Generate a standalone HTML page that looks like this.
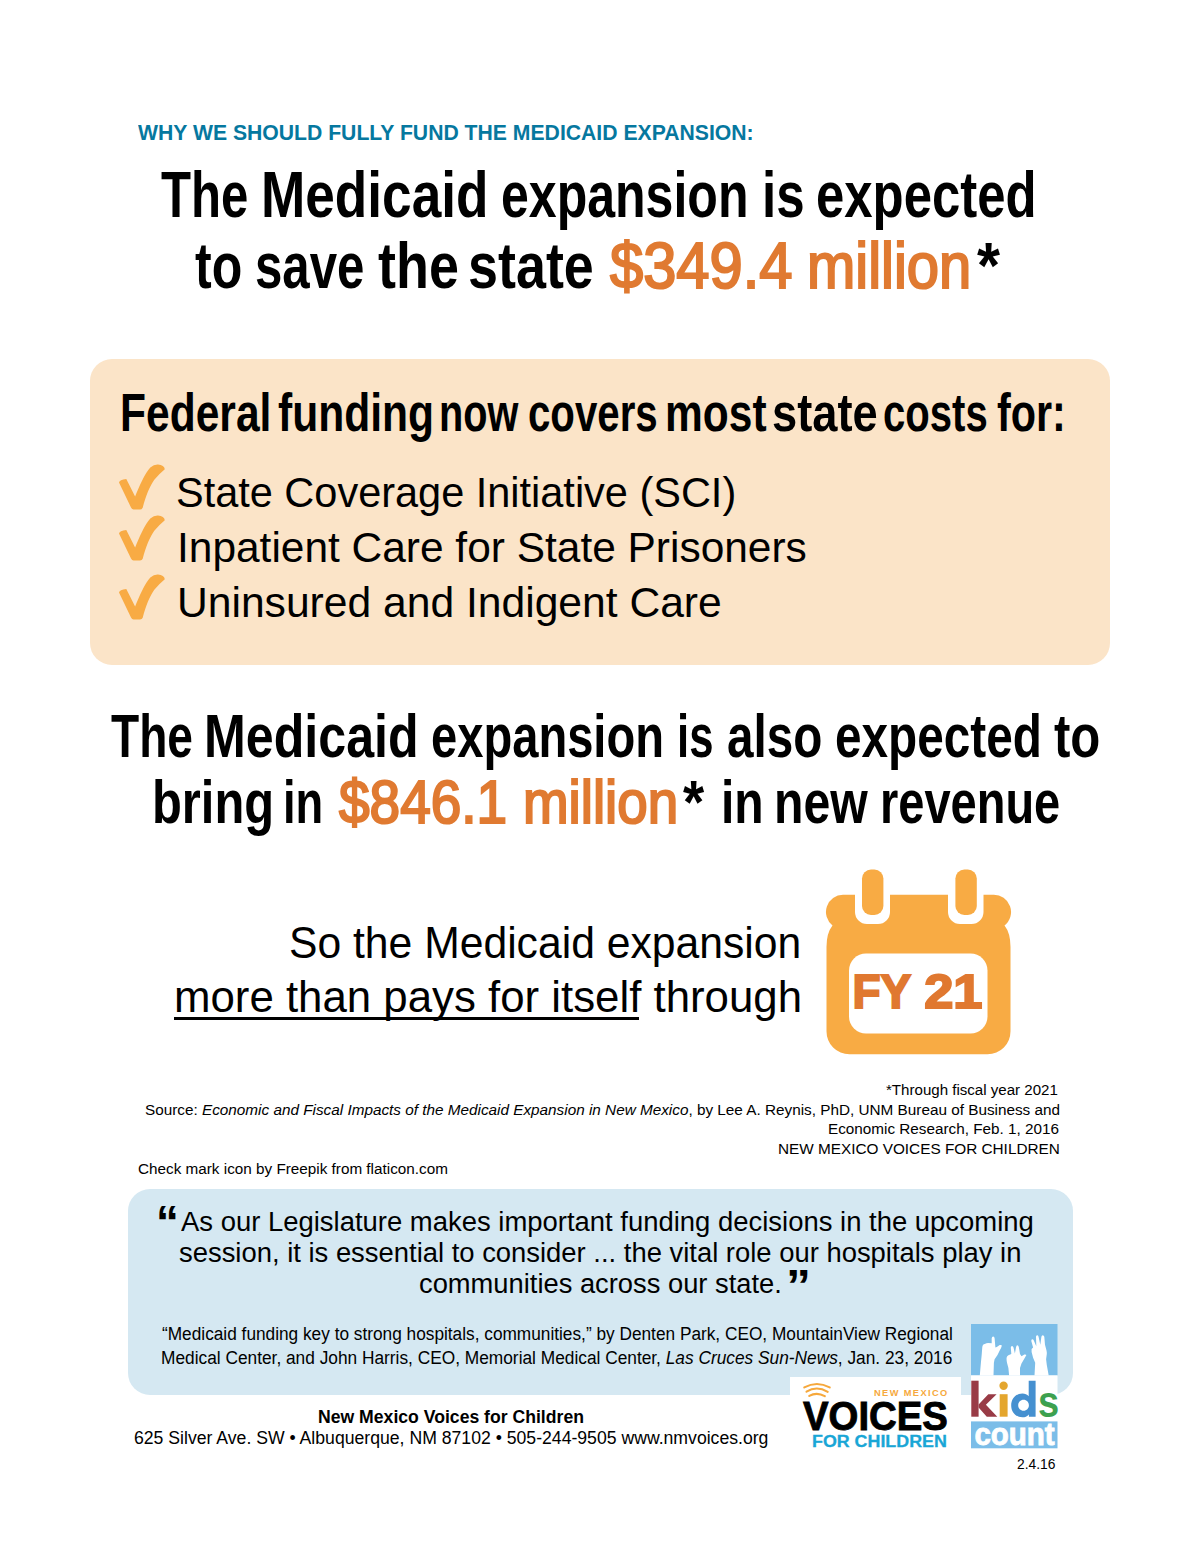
<!DOCTYPE html>
<html><head><meta charset="utf-8">
<style>
html,body{margin:0;padding:0;background:#fff;}
body{width:1200px;height:1553px;position:relative;overflow:hidden;font-family:"Liberation Sans",sans-serif;color:#000;}
.l{position:absolute;white-space:nowrap;line-height:1;transform-origin:0 0;}
.b{font-weight:bold;}
.or{color:#E07A31;}
.ft{color:#000;}
.ct{color:#000;}
.ul{text-decoration:underline;text-decoration-thickness:3px;text-underline-offset:4px;}
#peach{position:absolute;left:90px;top:359px;width:1020px;height:306px;border-radius:22px;background:#FBE4C8;}
#blue{position:absolute;left:128.25px;top:1189.3px;width:944.25px;height:205.7px;border-radius:22px;background:#D5E8F2;}
svg{position:absolute;overflow:visible;}
</style></head>
<body>
<div id="peach"></div>
<div id="blue"></div>

<!-- checkmarks -->
<svg id="ck1" style="left:119px;top:464.5px" width="47" height="46" viewBox="0 0 47 46"><path fill="#F8AB44" d="M0,17.5 Q0.5,14.5 7.3,14 L16.1,31.6 C20,22 26,8 31.3,2.5 Q35,-0.6 39,-0.4 Q45.2,0.3 45.8,4.2 Q40,9 35.3,14.7 C31,21 27,30 23.7,42.7 Q23,44.5 21,44.5 L14.5,44.5 Q13,44.3 12,42.5 Z"/></svg>
<svg id="ck2" style="left:119px;top:515.8px" width="47" height="46" viewBox="0 0 47 46"><path fill="#F8AB44" d="M0,17.5 Q0.5,14.5 7.3,14 L16.1,31.6 C20,22 26,8 31.3,2.5 Q35,-0.6 39,-0.4 Q45.2,0.3 45.8,4.2 Q40,9 35.3,14.7 C31,21 27,30 23.7,42.7 Q23,44.5 21,44.5 L14.5,44.5 Q13,44.3 12,42.5 Z"/></svg>
<svg id="ck3" style="left:119px;top:574.8px" width="47" height="46" viewBox="0 0 47 46"><path fill="#F8AB44" d="M0,17.5 Q0.5,14.5 7.3,14 L16.1,31.6 C20,22 26,8 31.3,2.5 Q35,-0.6 39,-0.4 Q45.2,0.3 45.8,4.2 Q40,9 35.3,14.7 C31,21 27,30 23.7,42.7 Q23,44.5 21,44.5 L14.5,44.5 Q13,44.3 12,42.5 Z"/></svg>

<!-- calendar -->
<svg id="cal" style="left:0;top:0" width="1200" height="1553" viewBox="0 0 1200 1553">
  <path fill="#F8AB44" d="M843,894.8 H855 V912 A12,12 0 0 0 867,924 H878 A12,12 0 0 0 890,912 V894.8 H948 V912 A12,12 0 0 0 960,924 H971.5 A12,12 0 0 0 983.5,912 V894.8 H993.5 A17.2,17.2 0 0 1 1004.5,925.5 Q1010.5,933 1010.5,947 V1031 A23,23 0 0 1 987.5,1054.3 H849.5 A23,23 0 0 1 826.5,1031 V947 Q826.5,933 832.5,925.5 A17.2,17.2 0 0 1 843,894.8 Z"/>
  <rect x="862" y="869.5" width="21.4" height="45.5" rx="9" fill="#F8AB44"/>
  <rect x="955.4" y="869.5" width="21.4" height="45.5" rx="9" fill="#F8AB44"/>
  <rect x="849" y="953.5" width="138.5" height="80" rx="17" fill="#fff"/>
  <g font-family="Liberation Sans" font-weight="bold" font-size="47.2" fill="#E07830" stroke="#E07830" stroke-width="2">
  <text transform="translate(852.4,1007.8) scale(0.975,1)">FY</text>
  <text transform="translate(924.2,1007.8) scale(1.11,1)">21</text>
  </g>
</svg>


<div id="vbg" style="position:absolute;left:790.2px;top:1377.3px;width:170.5px;height:76px;background:#fff;"></div>
<div id="kick" class="l b" style="left:138.03px;top:122.00px;font-size:22.5px;transform:scaleX(0.9410);color:#06789F;">WHY WE SHOULD FULLY FUND THE MEDICAID EXPANSION:</div>
<div id="h1a_0" class="l b" style="left:161.48px;top:162.22px;font-size:65.7px;transform:scaleX(0.7482);">The</div>
<div id="h1a_1" class="l b" style="left:260.76px;top:162.22px;font-size:65.7px;transform:scaleX(0.8095);">Medicaid</div>
<div id="h1a_2" class="l b" style="left:501.48px;top:162.22px;font-size:65.7px;transform:scaleX(0.7618);">expansion</div>
<div id="h1a_3" class="l b" style="left:761.89px;top:162.22px;font-size:65.7px;transform:scaleX(0.7771);">is</div>
<div id="h1a_4" class="l b" style="left:816.10px;top:162.22px;font-size:65.7px;transform:scaleX(0.7749);">expected</div>
<div id="h1b_0" class="l b" style="left:194.65px;top:232.80px;font-size:65.7px;transform:scaleX(0.7617);">to</div>
<div id="h1b_1" class="l b" style="left:255.15px;top:232.80px;font-size:65.7px;transform:scaleX(0.7493);">save</div>
<div id="h1b_2" class="l b" style="left:378.45px;top:232.80px;font-size:65.7px;transform:scaleX(0.8208);">the</div>
<div id="h1b_3" class="l b" style="left:468.09px;top:232.80px;font-size:65.7px;transform:scaleX(0.8203);">state</div>
<div id="h1b_4" class="l" style="left:609.63px;top:232.81px;font-size:65.7px;transform:scaleX(0.9080);-webkit-text-stroke:2.2px #E07A31;"><span class="or">$349.4</span></div>
<div id="h1b_5" class="l" style="left:806.89px;top:232.81px;font-size:65.7px;transform:scaleX(0.8828);-webkit-text-stroke:2.2px #E07A31;"><span class="or">million</span></div>
<div id="h1b_6" class="l b" style="left:977.43px;top:232.80px;font-size:65.7px;transform:scaleX(0.9000);">*</div>
<div id="ft_0" class="l b" style="left:120.22px;top:387.01px;font-size:52.8px;transform:scaleX(0.8061);">Federal</div>
<div id="ft_1" class="l b" style="left:278.19px;top:387.01px;font-size:52.8px;transform:scaleX(0.8069);">funding</div>
<div id="ft_2" class="l b" style="left:439.39px;top:387.01px;font-size:52.8px;transform:scaleX(0.7524);">now</div>
<div id="ft_3" class="l b" style="left:527.83px;top:387.01px;font-size:52.8px;transform:scaleX(0.7620);">covers</div>
<div id="ft_4" class="l b" style="left:665.04px;top:387.01px;font-size:52.8px;transform:scaleX(0.8049);">most</div>
<div id="ft_5" class="l b" style="left:771.73px;top:387.01px;font-size:52.8px;transform:scaleX(0.8571);">state</div>
<div id="ft_6" class="l b" style="left:883.48px;top:387.01px;font-size:52.8px;transform:scaleX(0.7590);">costs</div>
<div id="ft_7" class="l b" style="left:997.11px;top:387.01px;font-size:52.8px;transform:scaleX(0.7831);">for:</div>
<div id="h2a_0" class="l b" style="left:110.65px;top:706.00px;font-size:61.0px;transform:scaleX(0.7557);">The</div>
<div id="h2a_1" class="l b" style="left:204.07px;top:706.00px;font-size:61.0px;transform:scaleX(0.8225);">Medicaid</div>
<div id="h2a_2" class="l b" style="left:430.75px;top:706.00px;font-size:61.0px;transform:scaleX(0.7723);">expansion</div>
<div id="h2a_3" class="l b" style="left:676.79px;top:706.00px;font-size:61.0px;transform:scaleX(0.7159);">is</div>
<div id="h2a_4" class="l b" style="left:726.62px;top:706.00px;font-size:61.0px;transform:scaleX(0.7814);">also</div>
<div id="h2a_5" class="l b" style="left:835.37px;top:706.00px;font-size:61.0px;transform:scaleX(0.7822);">expected</div>
<div id="h2a_6" class="l b" style="left:1054.46px;top:706.00px;font-size:61.0px;transform:scaleX(0.8055);">to</div>
<div id="h2b_0" class="l b" style="left:152.44px;top:772.21px;font-size:61.0px;transform:scaleX(0.8007);">bring</div>
<div id="h2b_1" class="l b" style="left:282.68px;top:772.21px;font-size:61.0px;transform:scaleX(0.7426);">in</div>
<div id="h2b_2" class="l" style="left:338.64px;top:772.22px;font-size:61.0px;transform:scaleX(0.9011);-webkit-text-stroke:2.2px #E07A31;"><span class="or">$846.1</span></div>
<div id="h2b_3" class="l" style="left:522.79px;top:772.22px;font-size:61.0px;transform:scaleX(0.8970);-webkit-text-stroke:2.2px #E07A31;"><span class="or">million</span></div>
<div id="h2b_4" class="l b" style="left:683.38px;top:772.21px;font-size:61.0px;transform:scaleX(0.8917);">*</div>
<div id="h2b_5" class="l b" style="left:721.21px;top:772.21px;font-size:61.0px;transform:scaleX(0.7872);">in</div>
<div id="h2b_6" class="l b" style="left:774.20px;top:772.21px;font-size:61.0px;transform:scaleX(0.7904);">new</div>
<div id="h2b_7" class="l b" style="left:879.98px;top:772.21px;font-size:61.0px;transform:scaleX(0.7703);">revenue</div>
<div id="li1" class="l" style="left:175.87px;top:471.32px;font-size:43.0px;transform:scaleX(0.9646);">State Coverage Initiative (SCI)</div>
<div id="li2" class="l" style="left:177.24px;top:525.90px;font-size:43.0px;transform:scaleX(0.9869);">Inpatient Care for State Prisoners</div>
<div id="li3" class="l" style="left:177.03px;top:580.82px;font-size:43.0px;transform:scaleX(0.9908);">Uninsured and Indigent Care</div>
<div id="so1" class="l" style="left:289.45px;top:922.01px;font-size:43.6px;transform:scaleX(0.9784);">So the Medicaid expansion</div>
<div id="so2" class="l" style="left:174.09px;top:976.31px;font-size:43.6px;transform:scaleX(1.0045);">more than pays for itself through</div>
<div id="fn1" class="l ft" style="left:886.21px;top:1081.91px;font-size:15.4px;transform:scaleX(0.9800);">*Through fiscal year 2021</div>
<div id="fn2" class="l ft" style="left:144.80px;top:1101.60px;font-size:15.4px;transform:scaleX(0.9941);">Source: <i>Economic and Fiscal Impacts of the Medicaid Expansion in New Mexico</i>, by Lee A. Reynis, PhD, UNM Bureau of Business and</div>
<div id="fn3" class="l ft" style="left:828.41px;top:1121.30px;font-size:15.4px;transform:scaleX(0.9926);">Economic Research, Feb. 1, 2016</div>
<div id="fn4" class="l ft" style="left:778.40px;top:1140.91px;font-size:15.4px;transform:scaleX(0.9957);">NEW MEXICO VOICES FOR CHILDREN</div>
<div id="chk" class="l ft" style="left:138.21px;top:1160.72px;font-size:15.4px;transform:scaleX(0.9926);">Check mark icon by Freepik from flaticon.com</div>
<div id="q1" class="l" style="left:180.99px;top:1206.90px;font-size:28.2px;transform:scaleX(0.9737);">As our Legislature makes important funding decisions in the upcoming</div>
<div id="q2" class="l" style="left:179.01px;top:1238.00px;font-size:28.2px;transform:scaleX(0.9723);">session, it is essential to consider ... the vital role our hospitals play in</div>
<div id="q3" class="l" style="left:419.02px;top:1269.00px;font-size:28.2px;transform:scaleX(0.9691);">communities across our state.</div>
<div id="c1" class="l ct" style="left:162.01px;top:1326.26px;font-size:17.6px;transform:scaleX(0.9807);">“Medicaid funding key to strong hospitals, communities,” by Denten Park, CEO, MountainView Regional</div>
<div id="c2" class="l ct" style="left:161.03px;top:1349.76px;font-size:17.6px;transform:scaleX(0.9832);">Medical Center, and John Harris, CEO, Memorial Medical Center, <i>Las Cruces Sun-News</i>, Jan. 23, 2016</div>
<div id="a1" class="l b ft" style="left:317.53px;top:1407.60px;font-size:18.0px;transform:scaleX(0.9787);">New Mexico Voices for Children</div>
<div id="a2" class="l ft" style="left:133.50px;top:1429.60px;font-size:17.5px;transform:scaleX(1.0076);">625 Silver Ave. SW • Albuquerque, NM 87102 • 505-244-9505 www.nmvoices.org</div>
<div id="date" class="l ft" style="left:1017.01px;top:1457.32px;font-size:14.0px;transform:scaleX(0.9868);">2.4.16</div>
<div id="oq" class="l b" style="left:156.12px;top:1199.01px;font-size:47.5px;transform:scaleX(0.9611);">“</div>
<div id="cq" class="l b" style="left:785.56px;top:1264.00px;font-size:44.3px;transform:scaleX(1.1250);">”</div>
<div id="vnm" class="l b" style="left:873.60px;top:1389.01px;font-size:9.2px;transform:scaleX(1.0056);color:#F6A83C;letter-spacing:1.4px;">NEW MEXICO</div>
<div id="vvo" class="l b" style="left:803.48px;top:1395.51px;font-size:41.0px;transform:scaleX(0.9351);-webkit-text-stroke:0.9px #000;">VOICES</div>
<div id="vfc" class="l b" style="left:811.76px;top:1433.01px;font-size:17.4px;transform:scaleX(1.0260);color:#19A6D6;-webkit-text-stroke:0.3px #19A6D6;">FOR CHILDREN</div>
<div id="uline" style="position:absolute;left:174.2px;top:1016.8px;width:465.2px;height:2.9px;background:#000;"></div>

<!-- Voices logo -->
<svg id="wifi" style="left:800px;top:1380px" width="34" height="20" viewBox="0 0 34 20">
  <g fill="none" stroke="#F6A83C" stroke-width="2.1" stroke-linecap="round">
    <path d="M4.3,7.4 Q16.8,0.6 29.7,7.4"/>
    <path d="M6.5,11.6 Q16.8,5.4 27.7,11.8"/>
    <path d="M9.3,15.9 Q16.8,11.6 24.8,16.2"/>
  </g>
</svg>

<!-- Kids count logo -->
<svg id="kids" style="left:971.3px;top:1323.8px" width="86.5" height="124.3" viewBox="0 0 86.5 124.3">
  <rect x="0" y="0" width="86.5" height="51.4" fill="#7BBDE8"/>
  <rect x="0" y="51.4" width="86.5" height="46" fill="#fff"/>
  <rect x="0" y="97.4" width="86.5" height="26.9" fill="#7BBDE8"/>
  <g fill="#fff">
    <path d="M8.8,51.6 L9.9,38.8 C10.4,34 10.8,30 10.9,27.9 L11.3,22.9 C11.6,21 12.5,20.3 13.8,20 C15,19.3 16,19 17.1,18.9 L20.7,19.3 L20.7,14.2 Q21,12.4 22.2,12.5 Q23.4,12.6 23.6,14.2 L24.4,23.6 L25.8,22.9 L28.7,21.1 Q30.2,20.6 30.9,21.6 Q30.4,24 28.7,26.5 L26.5,30.9 L23.6,35.2 L22.9,38.8 L22.5,51.6 Z"/>
    <path d="M38.1,51.6 L37.4,43.9 L36,38.8 Q35.4,36 35.6,33.8 Q35.9,31.8 37.4,31.2 L40.3,30.1 L39.8,23.6 Q40,21.9 41,21.9 Q42.1,22 42.5,23.6 L43.9,29.4 L45,23.6 Q45.4,21.3 46.5,21.3 Q47.6,21.5 47.9,23.6 L49,30.1 L50.5,32.3 L53.4,30.5 Q55,30.2 55.4,31.1 L53,35.2 L50.5,39.6 L49,43.9 L49,51.6 Z"/>
    <path d="M63.5,51.6 L64.2,38.8 L62.1,33.8 L60.6,28 L60.6,25.1 L62.1,23.6 L60.3,17.1 Q60.2,15.2 61.3,15.2 Q62.3,15.3 62.8,16.4 L65.3,22.2 L65,12.7 Q65.1,11.2 66.1,11.2 Q67.2,11.3 67.5,12.4 L69.3,20.7 L70.4,12.7 Q70.7,11.2 71.7,11.2 Q73,11.3 73.3,12.7 L74,20.7 L75.5,26.5 Q76,28.5 75.8,30.1 L75.1,35.2 L75.8,41 L77.7,51.6 Z"/>
  </g>
  <!-- k -->
  <rect x="0.3" y="56.7" width="7.3" height="36" fill="#993B46"/>
  <path d="M7.6,80.6 L17.3,70.2 L25.6,70.2 L14.9,80.8 L26.3,92.7 L15.8,92.7 L7.6,83.6 Z" fill="#993B46"/>
  <!-- i -->
  <circle cx="32.6" cy="61.7" r="4.2" fill="#E4A62E"/>
  <rect x="28.7" y="70.2" width="7.9" height="22.5" fill="#E4A62E"/>
  <!-- d -->
  <path fill="#4590D0" fill-rule="evenodd" d="M57.7,56.7 H64.6 V92.7 H57.9 V90.4 C56.2,92.4 54,93.3 51.4,93.3 C45,93.3 40.2,88.2 40.2,81.4 C40.2,74.5 45,69.4 51.4,69.4 C54,69.4 56.2,70.4 57.7,72.2 Z M52.6,75.8 C49.5,75.8 47.2,78.2 47.2,81.3 C47.2,84.4 49.5,86.8 52.6,86.8 C55.6,86.8 57.9,84.4 57.9,81.3 C57.9,78.2 55.6,75.8 52.6,75.8 Z"/>
  <!-- s -->
  <text transform="translate(66.96,93.17) scale(0.86,1)" font-family="Liberation Sans" font-weight="bold" font-size="44.3" fill="#3DA14F">s</text>
  <!-- count -->
  <text x="3.5" y="120.8" font-family="Liberation Sans" font-weight="bold" font-size="30.7" fill="#fff" stroke="#fff" stroke-width="0.9" textLength="80.2" lengthAdjust="spacingAndGlyphs">count</text>
</svg>
</body></html>
